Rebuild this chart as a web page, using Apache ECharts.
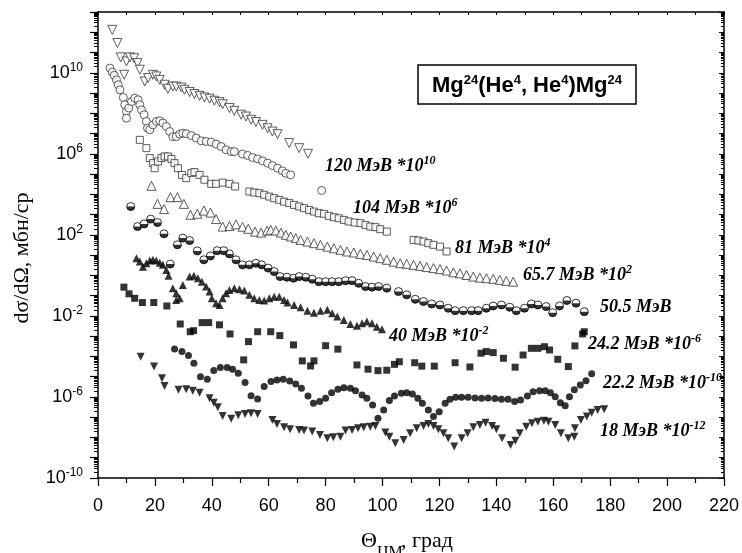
<!DOCTYPE html>
<html>
<head>
<meta charset="utf-8">
<script src="https://cdn.jsdelivr.net/npm/echarts@6/dist/echarts.min.js"></script>
<style>
  html, body { margin: 0; padding: 0; background: #fff; }
  #chart { width: 742px; height: 553px; }
</style>
</head>
<body>
<div id="chart"></div>
<script>
// Elastic scattering Mg24(He4,He4)Mg24: [theta c.m. (deg), log10(dσ/dΩ, mb/sr)],
// each energy already multiplied by the factor written next to it.
const e120 = [[5.0,12.12],[6.8,11.47],[8.0,10.76],[9.2,9.90],[10.0,10.56],[11.2,10.76],[12.7,10.72],[13.9,10.48],[14.7,10.15],[16.4,9.57],[17.6,9.74],[19.3,9.90],[20.5,9.82],[21.7,9.65],[23.4,9.41],[24.6,9.21],[26.3,9.32],[27.5,9.32],[29.3,9.27],[30.4,9.16],[32.2,9.05],[33.9,8.95],[35.7,8.86],[37.4,8.78],[39.2,8.72],[40.9,8.62],[42.7,8.55],[43.8,8.45],[46.2,8.26],[47.9,8.12],[50.3,7.93],[52.0,7.84],[53.8,7.68],[55.5,7.57],[57.8,7.43],[59.6,7.26],[61.3,7.10],[63.1,6.97],[67.2,6.53],[70.7,6.28],[73.8,6.00]];

const e104 = [[4.2,10.23],[5.0,10.03],[5.7,9.87],[6.5,9.65],[7.1,9.41],[7.7,9.16],[8.9,8.78],[9.4,8.42],[10.0,8.09],[10.0,7.76],[10.8,8.26],[11.8,8.58],[12.9,8.75],[14.1,8.67],[14.7,8.42],[15.3,8.17],[16.2,7.93],[17.0,7.60],[17.4,7.27],[18.2,7.19],[19.3,7.43],[20.5,7.60],[21.7,7.63],[22.8,7.52],[24.0,7.35],[25.2,7.10],[26.3,6.85],[27.5,6.85],[28.7,6.97],[29.8,7.02],[31.0,6.99],[32.8,6.90],[34.5,6.78],[36.3,6.64],[38.0,6.61],[39.8,6.58],[41.5,6.48],[43.3,6.36],[45.0,6.20],[46.8,6.11],[47.9,6.11],[50.8,5.99],[52.6,5.92],[54.3,5.82],[56.1,5.75],[57.8,5.65],[59.6,5.54],[61.3,5.42],[63.1,5.29],[64.8,5.16],[66.0,5.04],[67.7,4.96],[78.6,4.19]];

const e81 = [[14.7,6.69],[17.0,6.28],[18.2,5.79],[19.3,5.54],[19.9,5.29],[21.1,5.62],[22.3,5.79],[23.4,5.87],[24.6,5.87],[25.8,5.75],[26.9,5.54],[28.1,5.29],[29.5,4.96],[31.0,4.80],[32.8,5.05],[33.9,5.10],[35.7,4.96],[37.4,4.72],[39.8,4.52],[41.5,4.52],[43.8,4.58],[46.2,4.52],[48.2,4.39],[53.2,4.14],[54.9,4.09],[56.7,4.06],[58.4,3.98],[60.2,3.89],[61.9,3.81],[63.7,3.73],[65.4,3.64],[67.2,3.57],[68.9,3.48],[70.7,3.40],[72.4,3.32],[74.2,3.23],[75.9,3.15],[77.6,3.07],[79.4,3.04],[81.1,2.94],[82.9,2.87],[84.6,2.82],[86.4,2.74],[88.1,2.66],[90.2,2.61],[92.2,2.58],[94.0,2.49],[95.7,2.41],[97.5,2.38],[99.2,2.28],[101.5,2.16],[110.9,1.75],[112.6,1.72],[114.4,1.67],[116.1,1.59],[117.9,1.51],[120.2,1.42],[122.5,1.18]];

const e65 = [[18.8,4.42],[20.9,3.53],[23.2,3.27],[25.5,3.86],[27.9,3.86],[30.2,3.53],[32.5,2.99],[34.9,3.04],[37.2,3.20],[39.5,3.10],[41.5,2.78],[43.8,2.41],[46.2,2.44],[48.5,2.52],[50.8,2.40],[52.8,2.30],[55.2,2.16],[57.3,2.11],[59.4,2.21],[60.7,2.25],[62.5,2.21],[64.3,2.11],[66.0,2.00],[67.7,1.92],[69.5,1.84],[71.2,1.75],[73.6,1.67],[75.9,1.59],[78.2,1.51],[80.6,1.42],[82.9,1.34],[85.2,1.26],[87.5,1.18],[89.9,1.13],[92.2,1.06],[94.5,1.01],[96.9,0.93],[99.2,0.85],[101.5,0.77],[103.9,0.68],[106.2,0.60],[108.5,0.57],[110.9,0.52],[113.2,0.47],[115.5,0.41],[117.9,0.36],[120.2,0.31],[122.5,0.24],[124.9,0.15],[127.2,0.10],[129.5,0.02],[131.9,-0.06],[134.2,-0.11],[136.5,-0.14],[138.9,-0.17],[141.2,-0.22],[143.5,-0.27],[145.9,-0.31]];

const e50 = [[11.5,3.40],[13.9,2.41],[16.2,2.54],[18.5,2.78],[20.9,2.61],[23.2,2.05],[25.4,0.56],[27.9,1.51],[29.8,1.84],[32.2,1.72],[34.9,1.21],[37.2,0.77],[39.5,0.96],[41.9,1.22],[44.2,1.22],[46.2,1.06],[48.5,0.77],[50.8,0.52],[53.2,0.52],[55.5,0.60],[57.5,0.52],[59.8,0.36],[61.9,0.19],[64.0,-0.06],[66.4,-0.09],[68.7,-0.14],[70.7,-0.06],[73.0,-0.09],[75.3,-0.19],[77.6,-0.31],[80.0,-0.31],[82.3,-0.31],[84.6,-0.31],[87.0,-0.26],[89.3,-0.26],[91.6,-0.39],[94.0,-0.55],[96.3,-0.58],[98.6,-0.55],[101.5,-0.63],[105.6,-0.80],[108.5,-0.96],[111.5,-1.18],[114.4,-1.29],[117.3,-1.41],[120.2,-1.46],[123.1,-1.62],[125.5,-1.74],[128.4,-1.74],[131.3,-1.74],[133.6,-1.74],[136.5,-1.62],[138.9,-1.51],[141.8,-1.46],[144.7,-1.57],[147.0,-1.74],[149.9,-1.62],[152.3,-1.41],[154.6,-1.46],[157.5,-1.54],[159.8,-1.84],[162.2,-1.51],[164.8,-1.24],[168.0,-1.37],[170.9,-1.79]];

const e40 = [[13.5,0.85],[14.7,0.68],[15.8,0.43],[17.0,0.60],[18.2,0.73],[19.3,0.77],[20.5,0.73],[21.7,0.63],[22.8,0.52],[24.0,0.27],[24.8,-0.02],[26.3,-0.63],[27.5,-0.88],[27.5,-1.21],[28.7,-1.13],[29.8,-0.47],[32.2,-0.06],[33.7,-0.02],[35.1,-0.14],[36.5,-0.31],[38.0,-0.55],[39.2,-0.80],[40.0,-1.13],[41.5,-1.37],[42.7,-1.46],[43.8,-1.13],[45.0,-0.88],[46.2,-0.72],[47.9,-0.63],[49.7,-0.68],[51.4,-0.75],[53.2,-0.96],[54.9,-1.13],[56.7,-1.21],[58.4,-1.24],[60.2,-1.13],[61.9,-1.05],[63.7,-1.05],[65.4,-1.21],[66.6,-1.34],[68.9,-1.46],[71.2,-1.57],[73.6,-1.74],[75.9,-1.84],[78.2,-1.74],[80.6,-1.70],[82.3,-1.87],[84.1,-2.03],[86.4,-2.20],[88.7,-2.40],[91.0,-2.49],[92.8,-2.36],[94.5,-2.28],[96.3,-2.36],[98.0,-2.53],[99.8,-2.66]];

const e24 = [[9.1,-0.58],[10.9,-0.91],[12.9,-1.13],[15.6,-1.34],[19.6,-1.34],[24.2,-1.51],[28.9,-2.40],[32.4,-2.78],[33.6,-2.73],[36.6,-2.33],[38.9,-2.33],[42.7,-2.44],[46.4,-2.89],[51.2,-4.17],[52.9,-3.27],[56.1,-2.78],[60.7,-2.78],[63.9,-2.97],[68.7,-3.43],[71.8,-4.22],[74.7,-4.47],[75.9,-4.22],[80.0,-3.47],[84.3,-3.64],[91.0,-4.42],[94.9,-4.63],[98.4,-4.70],[101.5,-4.68],[104.2,-4.39],[105.9,-4.26],[111.3,-4.31],[113.8,-4.48],[118.2,-4.48],[125.5,-4.31],[130.7,-4.52],[134.6,-3.84],[136.5,-3.76],[138.9,-3.81],[142.5,-4.09],[146.6,-4.53],[149.4,-3.93],[152.3,-3.60],[154.6,-3.60],[156.9,-3.52],[158.7,-3.68],[161.6,-4.14],[165.3,-4.50],[167.6,-3.48],[170.3,-2.89],[170.9,-2.78]];

const e22 = [[26.9,-3.63],[29.5,-3.76],[31.8,-3.96],[33.7,-4.34],[36.0,-5.00],[38.4,-5.13],[40.7,-4.70],[43.0,-4.55],[45.4,-4.55],[47.3,-4.63],[49.3,-4.83],[51.7,-5.29],[53.8,-5.94],[56.1,-6.10],[58.4,-5.49],[60.8,-5.24],[62.9,-5.16],[65.1,-5.13],[67.4,-5.21],[69.5,-5.36],[71.5,-5.57],[73.8,-5.95],[75.7,-6.31],[77.9,-6.23],[80.0,-6.06],[82.1,-5.79],[84.3,-5.62],[86.4,-5.54],[88.7,-5.57],[90.5,-5.69],[92.8,-5.90],[94.5,-6.06],[96.5,-6.40],[98.4,-7.05],[100.4,-6.64],[102.4,-6.18],[104.2,-5.95],[106.6,-5.82],[108.5,-5.79],[110.5,-5.85],[112.4,-6.06],[114.0,-6.31],[116.1,-6.64],[117.9,-6.97],[119.9,-6.73],[122.0,-6.31],[123.7,-6.11],[125.7,-6.01],[127.8,-6.01],[130.1,-6.01],[132.5,-6.05],[134.8,-6.06],[137.1,-6.05],[139.5,-6.08],[141.8,-6.11],[144.1,-6.11],[146.4,-6.23],[148.5,-6.15],[150.9,-5.95],[152.9,-5.74],[155.2,-5.69],[157.2,-5.69],[159.0,-5.79],[160.7,-5.99],[162.5,-6.28],[164.2,-6.44],[165.7,-5.99],[167.4,-5.65],[169.5,-5.41],[171.5,-5.20],[173.5,-4.86]];

const e18 = [[15.0,-4.01],[19.7,-4.50],[22.5,-5.08],[23.4,-5.46],[28.3,-5.65],[31.0,-5.62],[33.3,-5.69],[35.7,-5.79],[39.2,-6.06],[40.7,-6.28],[42.1,-6.51],[43.8,-6.94],[46.8,-7.07],[49.3,-6.90],[51.7,-6.84],[53.8,-6.81],[56.1,-6.84],[61.3,-7.14],[62.9,-7.33],[65.4,-7.50],[67.5,-7.60],[70.7,-7.63],[72.4,-7.66],[75.3,-7.71],[78.0,-7.88],[80.6,-8.04],[82.7,-7.99],[85.2,-7.97],[87.0,-7.66],[89.3,-7.63],[91.4,-7.55],[93.4,-7.50],[95.7,-7.47],[97.5,-7.43],[101.0,-7.76],[102.4,-7.96],[104.5,-8.29],[107.4,-8.12],[109.7,-7.79],[112.0,-7.55],[114.4,-7.43],[116.1,-7.33],[117.9,-7.43],[119.6,-7.60],[121.4,-7.79],[123.1,-8.04],[125.2,-8.45],[127.8,-8.04],[129.9,-7.79],[131.9,-7.50],[134.2,-7.38],[136.2,-7.27],[138.5,-7.43],[140.0,-7.60],[142.0,-8.04],[145.0,-8.37],[146.7,-8.16],[148.2,-7.79],[150.5,-7.47],[152.5,-7.30],[154.6,-7.22],[156.7,-7.17],[158.3,-7.22],[160.7,-7.38],[162.7,-7.79],[165.3,-8.04],[167.4,-7.96],[167.6,-7.55],[169.7,-7.14],[171.8,-6.97],[173.5,-6.78],[175.6,-6.64],[177.9,-6.61]];

// energy captions: [main text, power of ten]
const captions = [
  ['120 МэВ *10', '10'],
  ['104 МэВ *10', '6'],
  ['81 МэВ *10', '4'],
  ['65.7 МэВ *10', '2'],
  ['50.5 МэВ', ''],
  ['40 МэВ *10', '-2'],
  ['24.2 МэВ *10', '-6'],
  ['22.2 МэВ *10', '-10'],
  ['18 МэВ *10', '-12']
];

// axis range and labelled decades
const xMin = 0, xMax = 220, xStep = 20;
const yMinExp = -10, yMaxExp = 13;
const yLabelExp = [-10, -6, -2, 2, 6, 10];

// caption anchor points (left edge, vertical middle) in pixels
const captionPos = [[325,166],[353,208],[455,248],[523,275],[600,307],[389,336],[588,344],[603,383],[600,431]];

const toPoints = arr => arr.map(([a, lg]) => [a, Math.pow(10, lg)]);

const decades = [];
const minors = [];
for (let n = yMinExp; n <= yMaxExp; n++) {
  decades.push(Math.pow(10, n));
  if (n < yMaxExp) for (let k = 2; k <= 9; k++) minors.push(k * Math.pow(10, n));
}
const labelValues = yLabelExp.map(n => Math.pow(10, n));

const SANS = '"Liberation Sans", Arial, sans-serif';
const SERIF = '"Liberation Serif", "Times New Roman", serif';

const openStyle = { color: '#fff', borderColor: '#333', borderWidth: 1 };
const solidStyle = { color: '#000', borderColor: '#000', borderWidth: 0 };

function scatter(name, data, symbol, size, style, extra) {
  return Object.assign({
    type: 'scatter', name: name, data: toPoints(data),
    symbol: symbol, symbolSize: size, itemStyle: style,
    xAxisIndex: 0, yAxisIndex: 0, animation: false, silent: true
  }, extra || {});
}

const series = [
  scatter('120', e120, 'triangle', 9, openStyle, { symbolRotate: 180 }),
  scatter('104', e104, 'circle', 8, openStyle),
  scatter('81', e81, 'rect', 7, openStyle),
  scatter('65.7', e65, 'triangle', 9, openStyle),
  scatter('50.5', e50, 'circle', 8, { color: '#fff', borderColor: '#000', borderWidth: 1 }),
  scatter('50.5 lower', e50, 'path://M0,0 A1,1 0 0 0 2,0 Z', 8, solidStyle, { symbolKeepAspect: true, symbolOffset: [0, 2] }),
  scatter('40', e40, 'triangle', 8, solidStyle),
  scatter('24.2', e24, 'rect', 7, solidStyle),
  scatter('22.2', e22, 'circle', 7, solidStyle),
  scatter('18', e18, 'triangle', 8, solidStyle, { symbolRotate: 180 })
];

function yAxisBase(pos) {
  return {
    type: 'log', logBase: 10, position: pos,
    min: Math.pow(10, yMinExp), max: Math.pow(10, yMaxExp),
    splitLine: { show: false }, minorTick: { show: false }
  };
}

const yAxes = [
  Object.assign(yAxisBase('left'), {
    axisLine: { show: true, lineStyle: { color: '#000', width: 1.5 } },
    axisTick: { show: true, inside: false, length: 8, customValues: decades, lineStyle: { color: '#000', width: 1.2 } },
    axisLabel: {
      show: true, margin: 15, customValues: labelValues,
      formatter: v => '{b|10}{s|' + Math.round(Math.log10(v)) + '}',
      rich: {
        b: { fontSize: 18, fontFamily: SANS, color: '#000', lineHeight: 22 },
        s: { fontSize: 12, fontFamily: SANS, color: '#000', verticalAlign: 'top', lineHeight: 14 }
      }
    }
  }),
  Object.assign(yAxisBase('left'), {
    axisLine: { show: false },
    axisTick: { show: true, inside: false, length: 4, customValues: minors, lineStyle: { color: '#000', width: 1 } },
    axisLabel: { show: false }
  }),
  Object.assign(yAxisBase('right'), {
    axisLine: { show: true, lineStyle: { color: '#000', width: 1.5 } },
    axisTick: { show: true, inside: true, length: 5, customValues: decades, lineStyle: { color: '#000', width: 1 } },
    axisLabel: { show: false }
  }),
  Object.assign(yAxisBase('right'), {
    axisLine: { show: false },
    axisTick: { show: true, inside: true, length: 3, customValues: minors, lineStyle: { color: '#000', width: 1 } },
    axisLabel: { show: false }
  })
];

const xAxes = [
  {
    type: 'value', position: 'bottom', min: xMin, max: xMax, interval: xStep,
    axisLine: { show: true, onZero: false, lineStyle: { color: '#000', width: 1.5 } },
    axisTick: { show: true, inside: false, length: 8, lineStyle: { color: '#000', width: 1.2 } },
    minorTick: { show: true, splitNumber: 2, length: 5, lineStyle: { color: '#000', width: 1.2 } },
    splitLine: { show: false },
    axisLabel: { margin: 19, fontSize: 18, fontFamily: SANS, color: '#000' }
  },
  {
    type: 'value', position: 'top', min: xMin, max: xMax, interval: xStep / 2,
    axisLine: { show: true, onZero: false, lineStyle: { color: '#000', width: 1.5 } },
    axisTick: { show: true, inside: true, length: 3, lineStyle: { color: '#000', width: 1 } },
    splitLine: { show: false },
    axisLabel: { show: false }
  }
];

const captionRich = {
  a: { fontSize: 18, fontFamily: SERIF, fontWeight: 'bold', fontStyle: 'italic', fill: '#000', lineHeight: 22 },
  s: { fontSize: 12, fontFamily: SERIF, fontWeight: 'bold', fontStyle: 'italic', fill: '#000', verticalAlign: 'top', lineHeight: 13 }
};

const graphics = captions.map((c, i) => ({
  type: 'text', x: captionPos[i][0], y: captionPos[i][1], silent: true,
  style: {
    text: '{a|' + c[0] + '}' + (c[1] ? '{s|' + c[1] + '}' : ''),
    rich: captionRich, align: 'left', verticalAlign: 'middle'
  }
}));

// reaction title in a framed box
graphics.push({
  type: 'rect', silent: true,
  shape: { x: 418, y: 65, width: 218, height: 39 },
  style: { fill: '#fff', stroke: '#000', lineWidth: 1.5 }
});
graphics.push({
  type: 'text', x: 527, y: 86, silent: true,
  style: {
    text: '{m|Mg}{s|24}{m|(He}{s|4}{m|, He}{s|4}{m|)Mg}{s|24}',
    align: 'center', verticalAlign: 'middle',
    rich: {
      m: { fontSize: 22, fontFamily: SANS, fontWeight: 'bold', fill: '#000', lineHeight: 24 },
      s: { fontSize: 13, fontFamily: SANS, fontWeight: 'bold', fill: '#000', verticalAlign: 'top', lineHeight: 12 }
    }
  }
});

// axis titles
graphics.push({
  type: 'text', x: 22, y: 258, rotation: Math.PI / 2, silent: true,
  style: { text: 'dσ/dΩ, мбн/ср', font: '22px ' + SERIF, fill: '#000', align: 'center', verticalAlign: 'middle' }
});
graphics.push({
  type: 'text', x: 361, y: 541, silent: true,
  style: { text: 'Θ', font: '22px ' + SERIF, fill: '#000', align: 'left', verticalAlign: 'middle' }
});
graphics.push({
  type: 'text', x: 377, y: 545, silent: true,
  style: { text: 'ЦМ', font: '16px ' + SERIF, fill: '#000', align: 'left', verticalAlign: 'top' }
});
graphics.push({
  type: 'text', x: 401, y: 541, silent: true,
  style: { text: ', град', font: '22px ' + SERIF, fill: '#000', align: 'left', verticalAlign: 'middle' }
});

const chart = echarts.init(document.getElementById('chart'), null, { renderer: 'canvas' });
chart.setOption({
  animation: false,
  backgroundColor: '#fff',
  grid: { left: 98, right: 15, top: 12, bottom: 75, containLabel: false },
  xAxis: xAxes,
  yAxis: yAxes,
  series: series,
  graphic: graphics
});
</script>
</body>
</html>
